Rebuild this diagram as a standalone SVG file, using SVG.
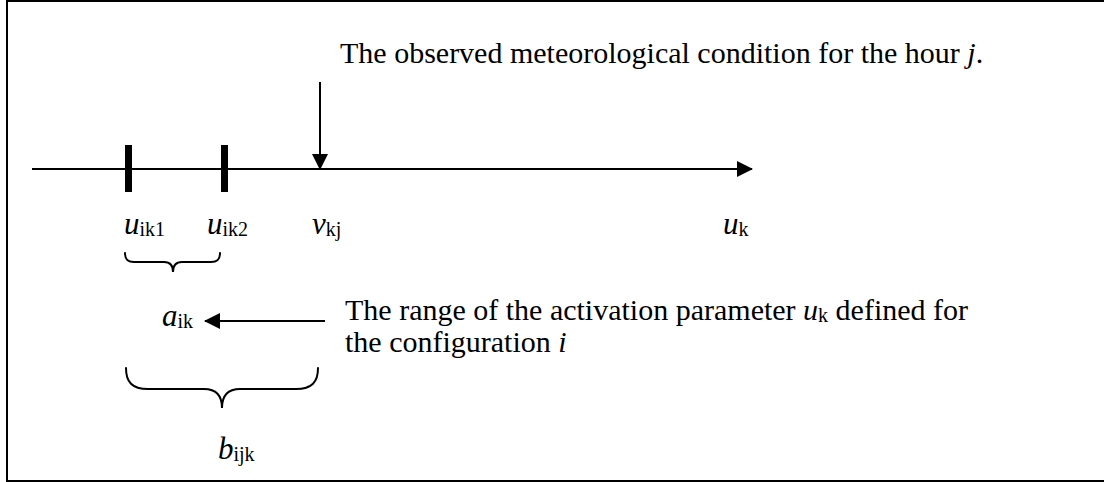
<svg xmlns="http://www.w3.org/2000/svg" width="1104" height="482" viewBox="0 0 1104 482">
<style>
.t{font-family:"Liberation Serif","Times New Roman",serif;font-size:30px;fill:#000}
.v{font-family:"Liberation Serif","Times New Roman",serif;font-size:31px;font-style:italic;fill:#000}
.s{font-family:"Liberation Serif","Times New Roman",serif;font-size:20px;font-style:normal;fill:#000}
.ln{stroke:#000;stroke-width:2;fill:none}
.br{stroke:#000;stroke-width:2;fill:none;stroke-linecap:round}
</style>
<defs>
<marker id="ah" viewBox="0 0 16 16" refX="15" refY="8" markerWidth="16" markerHeight="16" markerUnits="userSpaceOnUse" orient="auto">
<path d="M0,0 L16,8 L0,16 Z" fill="#000"/>
</marker>
</defs>
<rect x="7" y="1" width="1098" height="480" fill="#fff" stroke="#000" stroke-width="2"/>
<g id="connectors">
<line class="ln" x1="32" y1="169" x2="752" y2="169" marker-end="url(#ah)"/>
<line class="ln" x1="320" y1="82" x2="320" y2="169" marker-end="url(#ah)"/>
<line class="ln" x1="325" y1="321" x2="205" y2="321" marker-end="url(#ah)"/>
</g>
<g id="ticks">
<rect x="125" y="145" width="7" height="47" fill="#000"/>
<rect x="221" y="145" width="7" height="47" fill="#000"/>
</g>
<g id="header-label">
<text class="t" x="340" y="63">The observed meteorological condition for the hour <tspan font-style="italic">j</tspan>.</text>
</g>
<g id="u-ik1"><text class="v" x="124" y="234">u<tspan class="s" dy="2">ik1</tspan></text></g>
<g id="u-ik2"><text class="v" x="207" y="234">u<tspan class="s" dy="2">ik2</tspan></text></g>
<g id="v-kj"><text class="v" x="312" y="234">v<tspan class="s" dy="2">kj</tspan></text></g>
<g id="u-k"><text class="v" x="723" y="234">u<tspan class="s" dy="2">k</tspan></text></g>
<g id="brace-a">
<path class="br" d="M125,253 C125,259 127,262 134,262 L164,262 C170,262 173,265 173,272 C173,265 176,262 182,262 L211,262 C218,262 220,259 220,253"/>
</g>
<g id="a-ik"><text class="v" x="162" y="326">a<tspan class="s" dy="2">ik</tspan></text></g>
<g id="range-label">
<text class="t" x="345" y="320">The range of the activation parameter <tspan font-style="italic">u</tspan><tspan font-size="20" dy="2">k</tspan><tspan dy="-2"> defined for</tspan></text>
<text class="t" x="345" y="352">the configuration <tspan font-style="italic">i</tspan></text>
</g>
<g id="brace-b">
<path class="br" d="M126,368 C126,382 132,389 148,389 L204,389 C216,389 222,396 222,408 C222,396 228,389 240,389 L296,389 C312,389 318,382 318,368"/>
</g>
<g id="b-ijk"><text class="v" x="218" y="459">b<tspan class="s" dy="2">ijk</tspan></text></g>
</svg>
